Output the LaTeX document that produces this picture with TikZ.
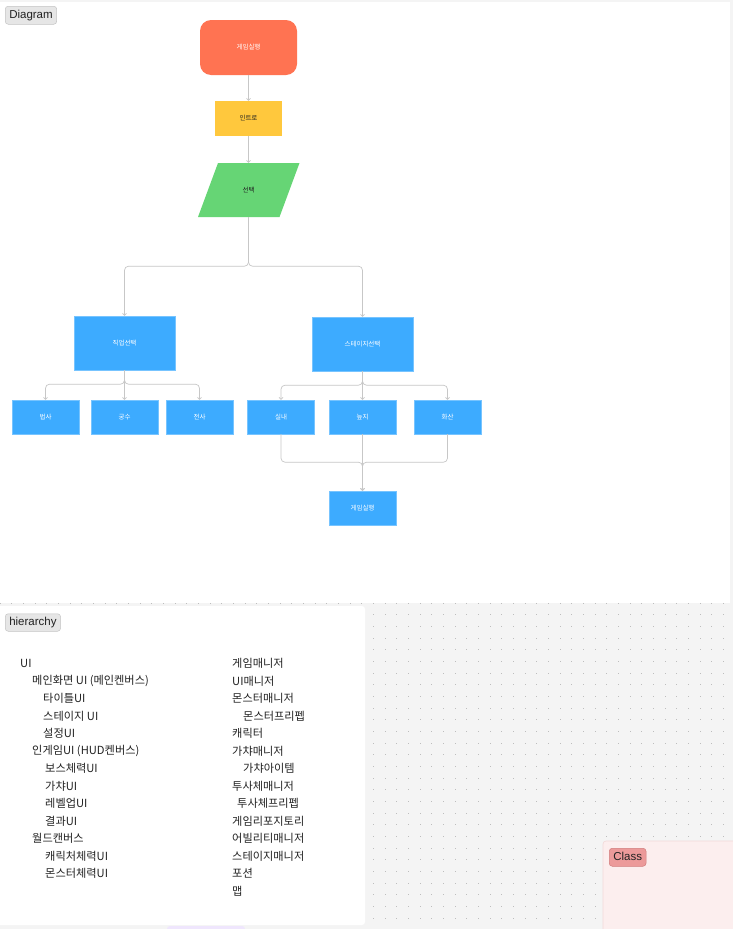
\documentclass[tikz,border=0pt]{standalone}
\usepackage{fontspec}
\setmainfont{Liberation Sans}
\newfontfamily\kr{Noto Sans CJK KR}
\usetikzlibrary{arrows.meta,calc}
\definecolor{bgc}{HTML}{F4F4F4}
\definecolor{dotc}{HTML}{BDBDBD}
\definecolor{cred}{HTML}{FF7352}
\definecolor{cyel}{HTML}{FFC83D}
\definecolor{cgrn}{HTML}{66D575}
\definecolor{cblu}{HTML}{3DABFF}
\definecolor{conc}{HTML}{C7C7C7}
\definecolor{lblf}{HTML}{E6E6E6}
\definecolor{lbld}{HTML}{C4C4C4}
\definecolor{clsf}{HTML}{EC9A9A}
\definecolor{clsd}{HTML}{D27C7C}
\definecolor{clsbg}{HTML}{FCEEEE}
\definecolor{clsbd}{HTML}{F2D9D9}
\definecolor{txtd}{HTML}{222222}
\definecolor{lav}{HTML}{EFE6FD}
\tikzset{
  conn/.style={draw=conc, line width=0.7pt, rounded corners=4pt, -{Straight Barb[length=2pt,width=4pt]}},
  bluebox/.style={fill=cblu, draw=cblu!70!white, line width=0.4pt, minimum width=67pt, minimum height=34pt, inner sep=0pt, text=white, font=\kr\fontsize{6.5}{7}\selectfont},
  bigblue/.style={bluebox, minimum width=101pt, minimum height=54pt},
  framelbl/.style={fill=lblf, draw=lbld, line width=0.5pt, rounded corners=3pt, inner xsep=4pt, inner ysep=0pt, text height=9pt, text depth=3pt, minimum height=18pt, font=\fontsize{11.5}{12}\selectfont, text=txtd, anchor=north west},
  htext/.style={anchor=west, inner sep=0pt, text=txtd, font=\kr\fontsize{11.2}{12}\selectfont}
}
\begin{document}
\begin{tikzpicture}[x=1pt,y=-1pt]
\useasboundingbox (0,0) rectangle (733,929);
% background and dots
\fill[bgc] (0,0) rectangle (733,929);
\foreach \i in {0,...,63}{
  \foreach \j in {0,...,80}{
    \fill[dotc] ({\i*11.67-0.5},{\j*11.67+8-0.5}) rectangle ++(1,1);
  }
}
% frames
\fill[white] (0,2) rectangle (730,603);
\fill[white, rounded corners=3pt] (-5,606) rectangle (365,925);
\fill[clsbg, draw=clsbd, line width=0.6pt, rounded corners=3pt] (603,841) rectangle (740,940);
\fill[lav, rounded corners=3pt] (167,926) rectangle (245,935);
% frame labels
\node[framelbl] (lblDiagram) at (5,6) {Diagram};
\node[framelbl, minimum height=17.5pt] (lblHier) at (5,613.5) {hierarchy};
\node[framelbl, fill=clsf, draw=clsd] (lblClass) at (609,848) {Class};
% flowchart
\node[fill=cred, rounded corners=11pt, minimum width=97pt, minimum height=55pt, inner sep=0pt, text=white, font=\kr\fontsize{6.5}{7}\selectfont] (start) at (248.5,47.5) {게임실행};
\node[fill=cyel, minimum width=67pt, minimum height=35pt, inner sep=0pt, text=txtd, font=\kr\fontsize{6.5}{7}\selectfont] (intro) at (248.5,118.5) {인트로};
\fill[cgrn] (218,163) -- (299.5,163) -- (279.5,217) -- (198,217) -- cycle;
\node[minimum height=54pt, minimum width=20pt, inner sep=0pt, text=txtd, font=\kr\fontsize{6.5}{7}\selectfont] (sel) at (248.5,190) {선택};
\node[bigblue] (job) at (124.5,343) {직업선택};
\node[bigblue] (stage) at (362.5,344) {스테이지선택};
\node[bluebox] (mage) at (45.5,417) {법사};
\node[bluebox] (archer) at (124.5,417) {궁수};
\node[bluebox] (warrior) at (199.5,417) {전사};
\node[bluebox] (indoor) at (281,417) {실내};
\node[bluebox] (swamp) at (362.5,417) {늪지};
\node[bluebox] (volcano) at (447.5,417) {화산};
\node[bluebox] (run) at (362.5,508) {게임실행};
% connectors
\draw[conn] (start) -- (intro);
\draw[conn] (intro) -- (sel);
\draw[conn] (sel.south) -- ++(0,49) -| (job.north);
\draw[conn] (sel.south) -- ++(0,49) -| (stage.north);
\draw[conn] (job.south) -- ++(0,14) -| (mage.north);
\draw[conn] (job.south) -- (archer.north);
\draw[conn] (job.south) -- ++(0,14) -| (warrior.north);
\draw[conn] (stage.south) -- ++(0,14) -| (indoor.north);
\draw[conn] (stage.south) -- (swamp.north);
\draw[conn] (stage.south) -- ++(0,14) -| (volcano.north);
\draw[conn] (indoor.south) -- ++(0,28) -| (run.north);
\draw[conn] (swamp.south) -- (run.north);
\draw[conn] (volcano.south) -- ++(0,28) -| (run.north);
% hierarchy left column
\node[htext] (h1) at (20,663.5) {UI};
\node[htext] (h2) at (32,681) {메인화면 UI (메인켄버스)};
\node[htext] (h3) at (43,698.5) {타이틀UI};
\node[htext] (h4) at (43,716) {스테이지 UI};
\node[htext] (h5) at (43,733.5) {설정UI};
\node[htext] (h6) at (32,751) {인게임UI (HUD켄버스)};
\node[htext] (h7) at (45,768.5) {보스체력UI};
\node[htext] (h8) at (45,786) {가챠UI};
\node[htext] (h9) at (45,803.5) {레벨업UI};
\node[htext] (h10) at (45,821) {결과UI};
\node[htext] (h11) at (32,838.5) {월드캔버스};
\node[htext] (h12) at (45,856) {캐릭처체력UI};
\node[htext] (h13) at (45,873.5) {몬스터체력UI};
% hierarchy right column
\node[htext] (r1) at (232,663.5) {게임매니저};
\node[htext] (r2) at (232,681) {UI매니저};
\node[htext] (r3) at (232,698.5) {몬스터매니저};
\node[htext] (r4) at (243,716) {몬스터프리펩};
\node[htext] (r5) at (232,733.5) {캐릭터};
\node[htext] (r6) at (232,751) {가챠매니저};
\node[htext] (r7) at (243,768.5) {가챠아이템};
\node[htext] (r8) at (232,786) {투사체매니저};
\node[htext] (r9) at (237,803.5) {투사체프리펩};
\node[htext] (r10) at (232,821) {게임리포지토리};
\node[htext] (r11) at (232,838.5) {어빌리티매니저};
\node[htext] (r12) at (232,856) {스테이지매니저};
\node[htext] (r13) at (232,873.5) {포션};
\node[htext] (r14) at (232,891) {맵};
\end{tikzpicture}
\end{document}
